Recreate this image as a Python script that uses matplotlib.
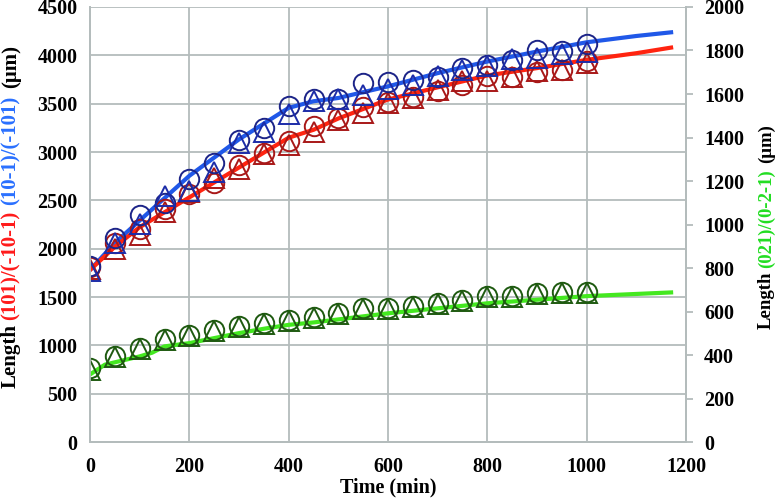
import matplotlib
matplotlib.use("Agg")
import matplotlib.pyplot as plt

plt.rcParams['font.family'] = ['Liberation Serif', 'DejaVu Serif']
plt.rcParams['font.weight'] = 'bold'
plt.rcParams['axes.labelweight'] = 'bold'

# measured points (min)
t_pts = [0, 50, 100, 150, 200, 250, 300, 350, 400, 450, 500,
         550, 600, 650, 700, 750, 800, 850, 900, 950, 1000]

# (10-1)/(-101), left axis
blue_circ = [1820, 2106, 2353, 2473, 2720, 2885, 3121, 3251, 3481, 3553, 3545,
             3713, 3720, 3748, 3772, 3868, 3902, 3953, 4056, 4046, 4114]
blue_tri = [1770, 2060, 2260, 2548, 2600, 2789, 3097, 3210, 3395, 3532, 3553,
            3587, 3655, 3697, 3782, 3851, 3885, 3964, 3970, 4011, 4039]
# (101)/(-10-1), left axis
red_circ = [1810, 2055, 2200, 2413, 2565, 2675, 2867, 2994, 3114, 3268, 3354,
            3463, 3515, 3570, 3635, 3697, 3782, 3775, 3826, 3851, 3943]
red_tri = [1790, 2000, 2137, 2377, 2583, 2730, 2823, 2977, 3073, 3210, 3327,
           3405, 3508, 3560, 3645, 3731, 3731, 3772, 3834, 3851, 3919]
# (021)/(0-2-1), right axis
green_circ = [341, 397, 432, 474, 493, 516, 534, 547, 559, 577, 592,
              615, 615, 626, 641, 653, 672, 672, 687, 688, 691]
green_tri = [333, 392, 427, 468, 487, 510, 529, 543, 555, 572, 588,
             610, 612, 621, 636, 648, 666, 668, 682, 684, 686]

# model curves
t_fit = [0, 50, 100, 200, 300, 400, 450, 500, 600, 700, 800, 900, 1000, 1100, 1170]
blue_fit = [1780, 2060, 2292, 2754, 3131, 3457, 3525, 3559, 3679, 3816, 3936, 4039, 4135, 4200, 4238]
red_fit = [1780, 2020, 2223, 2531, 2840, 3148, 3230, 3347, 3543, 3669, 3792, 3868, 3953, 4022, 4080]
t_green = [0, 30, 100, 125, 150, 200, 250, 300, 350, 400, 450, 600, 800, 1000, 1170]
green_fit = [311, 356, 394, 411, 440, 455, 478, 501, 521, 539, 550, 592, 638, 671, 688]

fig = plt.figure(figsize=(7.76, 4.99), dpi=100)
ax = fig.add_axes([0.116, 0.114, 0.768, 0.872])
ax2 = ax.twinx()

grid_c = '#b4bcbc'
ax.set_xlim(0, 1200)
ax.set_ylim(0, 4500)
ax.set_xticks(range(0, 1201, 200))
ax.set_yticks(range(0, 4501, 500))
ax.grid(True, color=grid_c, lw=1.3)
ax.set_axisbelow(True)
ax2.set_ylim(0, 2000)
ax2.set_yticks(range(0, 2001, 200))

for a in (ax, ax2):
    for s in a.spines.values():
        s.set_color(grid_c)
        s.set_linewidth(1.3)
    a.spines['top'].set_visible(False)
ax.tick_params(axis='both', length=0, labelsize=14.5, pad=9)
ax.tick_params(axis='x', pad=11)
ax2.tick_params(axis='y', length=5, color=grid_c, width=1.3, labelsize=14.5, pad=8)

ms = 14
ax.plot(t_fit, blue_fit, color='#2058e8', lw=3, zorder=2)
ax.plot(t_fit, red_fit, color='#ff2410', lw=3, zorder=2)
ax2.plot(t_green, green_fit, color='#44e820', lw=3, zorder=2)

ax.plot(t_pts, red_circ, 'o', ms=ms, mfc='none', mec='#a81818', mew=1.4)
ax.plot(t_pts, red_tri, '^', ms=ms, mfc='none', mec='#a81818', mew=1.4)
ax.plot(t_pts, blue_circ, 'o', ms=ms, mfc='none', mec='#1c2488', mew=1.4)
ax.plot(t_pts, blue_tri, '^', ms=ms, mfc='none', mec='#1c2ca8', mew=1.4)
ax2.plot(t_pts, green_circ, 'o', ms=ms, mfc='none', mec='#1e5a10', mew=1.4)
ax2.plot(t_pts, green_tri, '^', ms=ms, mfc='none', mec='#1e5a10', mew=1.4)

ax.set_xlabel('Time (min)', fontsize=14.5, labelpad=0)

# multi-coloured rotated axis labels, built piece by piece
fig.canvas.draw()
renderer = fig.canvas.get_renderer()
W, H = fig.bbox.width, fig.bbox.height


def stacked_label(x_px, y_px, pieces, size):
    y = y_px
    for s, c, gap in pieces:
        txt = fig.text(x_px / W, y / H, s, rotation=90, color=c, fontsize=size,
                       ha='center', va='bottom')
        bb = txt.get_window_extent(renderer)
        y = bb.y1 + gap


stacked_label(11, 499 - 388, [('Length', 'black', 4),
                              ('(101)/(-10-1)', '#ff1a1a', 6),
                              ('(10-1)/(-101)', '#2a70ff', 8),
                              ('(μm)', 'black', 0)], 15)
stacked_label(766, 499 - 329, [('Length', 'black', 4),
                               ('(021)/(0-2-1)', '#22dd22', 6),
                               ('(μm)', 'black', 0)], 13.5)

fig.savefig('out.png', dpi=100)
